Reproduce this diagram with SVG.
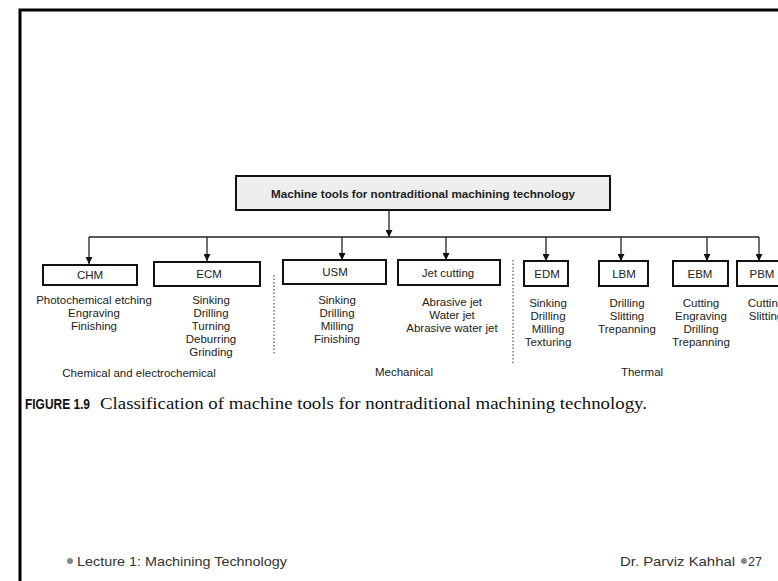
<svg xmlns="http://www.w3.org/2000/svg" width="778" height="581" viewBox="0 0 778 581">
<style>
.t{font-family:"Liberation Sans",Arial,sans-serif;font-size:11.5px;fill:#222;text-anchor:middle}
.box{fill:#fff;stroke:#111;stroke-width:2}
.conn{stroke:#222;stroke-width:1.3;fill:none}
.sep{stroke:#555;stroke-width:1.2;stroke-dasharray:1.5 2;fill:none}
.foot{font-family:"Liberation Sans",Arial,sans-serif;font-size:13px;fill:#333}
</style>
<defs>
<marker id="ah" viewBox="0 0 8 8" refX="8" refY="4" markerWidth="7" markerHeight="7" markerUnits="userSpaceOnUse" orient="auto">
<path d="M0,0 L8,4 L0,8 z" fill="#111"/>
</marker>
</defs>
<rect width="778" height="581" fill="#fff"/>
<path d="M20,581 V10 H778" fill="none" stroke="#000" stroke-width="3"/>

<g id="connectors">
<path class="conn" d="M389,211 V237" marker-end="url(#ah)"/>
<path class="conn" d="M89,237 H759"/>
<path class="conn" d="M89,237 V264" marker-end="url(#ah)"/>
<path class="conn" d="M207,237 V261" marker-end="url(#ah)"/>
<path class="conn" d="M342,237 V260" marker-end="url(#ah)"/>
<path class="conn" d="M446,237 V260" marker-end="url(#ah)"/>
<path class="conn" d="M546,237 V261" marker-end="url(#ah)"/>
<path class="conn" d="M621,237 V261" marker-end="url(#ah)"/>
<path class="conn" d="M707,237 V261" marker-end="url(#ah)"/>
<path class="conn" d="M759,237 V261" marker-end="url(#ah)"/>
</g>

<g id="root">
<rect x="236" y="176" width="374" height="34" fill="#eeeeee" stroke="#111" stroke-width="2"/>
<text x="423" y="198" class="t" style="font-weight:bold;font-size:11.5px" textLength="304" lengthAdjust="spacingAndGlyphs">Machine tools for nontraditional machining technology</text>
</g>

<g id="chm">
<rect class="box" x="43" y="265" width="94" height="20"/>
<text class="t" x="90" y="279">CHM</text>
<text class="t" x="94" y="304">Photochemical etching</text>
<text class="t" x="94" y="317">Engraving</text>
<text class="t" x="94" y="330">Finishing</text>
</g>
<g id="ecm">
<rect class="box" x="154" y="262" width="106" height="24"/>
<text class="t" x="209" y="278">ECM</text>
<text class="t" x="211" y="304">Sinking</text>
<text class="t" x="211" y="317">Drilling</text>
<text class="t" x="211" y="330">Turning</text>
<text class="t" x="211" y="343">Deburring</text>
<text class="t" x="211" y="356">Grinding</text>
</g>
<g id="usm">
<rect class="box" x="283" y="260" width="103" height="24"/>
<text class="t" x="335" y="276">USM</text>
<text class="t" x="337" y="304">Sinking</text>
<text class="t" x="337" y="317">Drilling</text>
<text class="t" x="337" y="330">Milling</text>
<text class="t" x="337" y="343">Finishing</text>
</g>
<g id="jet">
<rect class="box" x="398" y="260" width="102" height="25"/>
<text class="t" x="448" y="277">Jet cutting</text>
<text class="t" x="452" y="306">Abrasive jet</text>
<text class="t" x="452" y="319">Water jet</text>
<text class="t" x="452" y="332">Abrasive water jet</text>
</g>
<g id="edm">
<rect class="box" x="524" y="261" width="44" height="25"/>
<text class="t" x="547" y="278">EDM</text>
<text class="t" x="548" y="307">Sinking</text>
<text class="t" x="548" y="320">Drilling</text>
<text class="t" x="548" y="333">Milling</text>
<text class="t" x="548" y="346">Texturing</text>
</g>
<g id="lbm">
<rect class="box" x="599" y="261" width="49" height="25"/>
<text class="t" x="624" y="278">LBM</text>
<text class="t" x="627" y="307">Drilling</text>
<text class="t" x="627" y="320">Slitting</text>
<text class="t" x="627" y="333">Trepanning</text>
</g>
<g id="ebm">
<rect class="box" x="673" y="261" width="55" height="25"/>
<text class="t" x="700" y="278">EBM</text>
<text class="t" x="701" y="307">Cutting</text>
<text class="t" x="701" y="320">Engraving</text>
<text class="t" x="701" y="333">Drilling</text>
<text class="t" x="701" y="346">Trepanning</text>
</g>
<g id="pbm">
<rect class="box" x="737" y="261" width="50" height="25"/>
<text class="t" x="762" y="278">PBM</text>
<text class="t" x="766" y="307">Cutting</text>
<text class="t" x="766" y="320">Slitting</text>
</g>

<g id="separators">
<path class="sep" d="M274,275 V355"/>
<path class="sep" d="M513,260 V365"/>
</g>

<g id="groups">
<text class="t" x="139" y="377">Chemical and electrochemical</text>
<text class="t" x="404" y="376">Mechanical</text>
<text class="t" x="642" y="376">Thermal</text>
</g>

<g id="caption">
<text x="25" y="409" font-family="'Liberation Sans',Arial,sans-serif" font-weight="bold" font-size="15" fill="#111" textLength="65" lengthAdjust="spacingAndGlyphs">FIGURE 1.9</text>
<text x="100" y="409" font-family="'Liberation Serif','Times New Roman',serif" font-size="16" fill="#111" textLength="547" lengthAdjust="spacingAndGlyphs">Classification of machine tools for nontraditional machining technology.</text>
</g>

<g id="footer">
<circle cx="70" cy="561" r="3" fill="#888"/>
<text class="foot" x="77" y="566" textLength="210" lengthAdjust="spacingAndGlyphs">Lecture 1: Machining Technology</text>
<text class="foot" x="620" y="566" textLength="115" lengthAdjust="spacingAndGlyphs">Dr. Parviz Kahhal</text>
<circle cx="744" cy="561" r="3" fill="#888"/>
<text class="foot" x="748" y="566" textLength="14" lengthAdjust="spacingAndGlyphs">27</text>
</g>
</svg>
